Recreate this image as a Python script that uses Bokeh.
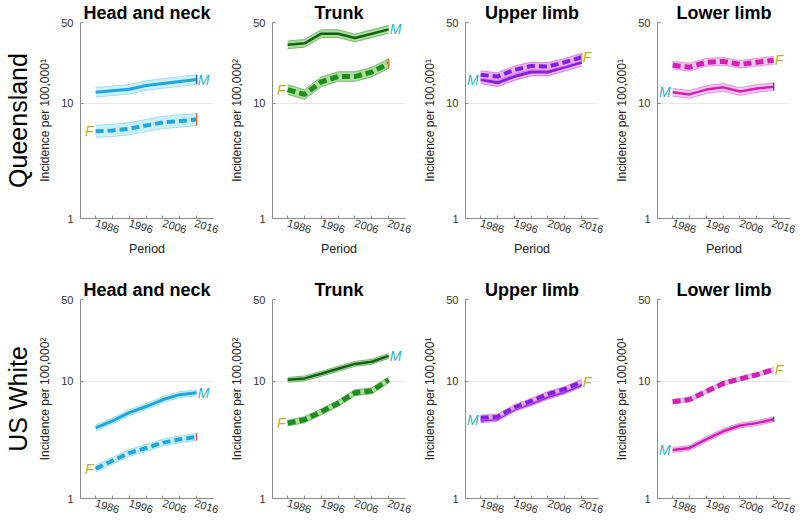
from bokeh.plotting import figure
from bokeh.layouts import row, column
from bokeh.models import Label, FixedTicker, BasicTickFormatter, LinearAxis
from bokeh.embed import file_html
from bokeh.resources import INLINE

# ---------------- data ----------------
periods = [1986, 1991, 1996, 2001, 2006, 2011, 2016]
x_ticks = [1986, 1996, 2006, 2016]
x_minor = [1991, 2001, 2011]
y_ticks = [1, 10, 50]

row_labels = ["Queensland", "US White"]
titles = ["Head and neck", "Trunk", "Upper limb", "Lower limb"]
qld_sup = ["\u00b9", "\u00b2", "\u00b9", "\u00b9"]
us_sup = ["\u00b2", "\u00b2", "\u00b9", "\u00b9"]

# Queensland
qld_head_m = [12.4, 12.8, 13.2, 14.2, 14.8, 15.4, 16.0]
qld_head_f = [5.7, 5.8, 6.0, 6.4, 6.8, 7.0, 7.2]
qld_trunk_m = [32.0, 33.0, 40.0, 40.0, 36.7, 40.0, 43.6]
qld_trunk_f = [13.1, 11.9, 15.3, 17.0, 17.0, 18.6, 22.0]
qld_upper_m = [16.0, 15.0, 17.0, 18.6, 18.6, 20.5, 22.6]
qld_upper_f = [17.6, 17.0, 19.4, 21.0, 20.8, 22.6, 25.0]
qld_lower_m = [12.4, 11.9, 13.1, 13.7, 12.6, 13.4, 13.9]
qld_lower_f = [21.3, 20.5, 22.6, 23.0, 21.7, 22.6, 23.5]

# US White
us_head_m = [4.0, 4.6, 5.4, 6.1, 7.0, 7.7, 8.0]
us_head_f = [1.8, 2.1, 2.45, 2.7, 3.0, 3.2, 3.35]
us_trunk_m = [10.3, 10.6, 11.6, 12.8, 14.1, 14.7, 16.5]
us_trunk_f = [4.4, 4.7, 5.5, 6.5, 8.0, 8.3, 10.3]
us_upper_m = [4.65, 4.8, 5.8, 6.5, 7.4, 8.2, 9.4]
us_upper_f = [4.9, 5.0, 6.0, 6.8, 7.8, 8.6, 9.9]
us_lower_m = [2.6, 2.7, 3.2, 3.75, 4.2, 4.4, 4.75]
us_lower_f = [6.7, 7.0, 8.2, 9.6, 10.5, 11.4, 12.6]

# confidence band half-width (multiplicative)
qld_ci_m = [1.10, 1.08, 1.08, 1.08]
qld_ci_f = [1.13, 1.10, 1.08, 1.08]
us_ci_m = [1.06, 1.05, 1.05, 1.05]
us_ci_f = [1.07, 1.06, 1.05, 1.04]

# ---------------- styles ----------------
FONT = "Liberation Sans"
panel_styles = [
    dict(m_line="#1fa6dc", f_line="#1fa6dc", band="#c6eef9", edge="#74cfe9", m_w=3, f_w=4),
    dict(m_line="#155e15", f_line="#1f8c1f", band="#9ddf8c", edge="#4f8f4f", m_w=2.5, f_w=5),
    dict(m_line="#7f22dd", f_line="#7f22dd", band="#f0a8f7", edge="#cc55dd", m_w=3, f_w=4),
    dict(m_line="#d21fb4", f_line="#d21fb4", band="#f7c2f0", edge="#cf66cf", m_w=2.5, f_w=5),
]
qld_sides = [("right", "left"), ("right", "left"), ("left", "right"), ("left", "right")]
us_sides = [("right", "left"), ("right", "left"), ("left", "right"), ("left", "right")]
qld_end = [("#3a5ec0", "#e06a30"), (None, "#e07a30"), (None, "#d8a020"), ("#4050c0", None)]
us_end = [(None, "#d05858"), (None, None), (None, None), ("#4050c0", None)]

M_COLOR = "#2ab4d2"
F_COLOR = "#b8b41c"

FRAME_W = 133
LEFT_B = [0, 53, 53, 53]
RIGHT_B = [6, 7, 6, 6]
TOP_H, TOP_BOTTOM_B = 277, 59
BOT_H, BOT_BOTTOM_B = 253, 32


def make_panel(idx, top, m_vals, f_vals, ci_m, ci_f, sides, ends, sup, row_label):
    st = panel_styles[idx]
    p = figure(frame_width=FRAME_W, height=TOP_H if top else BOT_H,
               x_range=(1981.5, 2021), y_range=(1, 50), y_axis_type="log",
               output_backend="svg", toolbar_location=None,
               min_border_left=LEFT_B[idx], min_border_right=RIGHT_B[idx],
               min_border_top=0, min_border_bottom=TOP_BOTTOM_B if top else BOT_BOTTOM_B)
    p.title.text = titles[idx]
    p.title.align = "center"
    p.title.text_font = FONT
    p.title.text_font_size = "18px"
    p.title.text_font_style = "bold"
    p.title.text_color = "black"
    p.title.standoff = 0
    p.title.text_line_height = 0.85
    p.outline_line_color = None
    p.xgrid.visible = False
    p.ygrid.ticker = FixedTicker(ticks=[10, 50])
    p.ygrid.grid_line_color = "#e6e6e6"

    p.xaxis.ticker = FixedTicker(ticks=x_ticks, minor_ticks=x_minor)
    p.yaxis.ticker = FixedTicker(ticks=y_ticks, minor_ticks=[])
    p.yaxis.formatter = BasicTickFormatter()
    p.yaxis.major_label_overrides = {1: "1", 10: "10", 50: "50"}
    for ax in (p.xaxis[0], p.yaxis[0]):
        ax.axis_line_color = "#8a8a8a"
        ax.major_tick_line_color = "#8a8a8a"
        ax.minor_tick_line_color = "#8a8a8a"
        ax.major_tick_in = 3
        ax.major_tick_out = 0
        ax.minor_tick_in = 3
        ax.minor_tick_out = 0
        ax.major_label_text_font = FONT
        ax.major_label_text_font_size = "11px"
        ax.major_label_text_color = "#333333"
        ax.axis_label_text_font = FONT
        ax.axis_label_text_font_style = "normal"
        ax.axis_label_text_color = "#222222"
    p.xaxis.major_label_orientation = -0.3
    p.xaxis.major_label_standoff = 4
    if top:
        p.xaxis.axis_label = "Period"
        p.xaxis.axis_label_text_font_size = "12.5px"
        p.xaxis.axis_label_standoff = 2
    p.yaxis.axis_label = "Incidence per 100,000" + sup
    p.yaxis.axis_label_text_font_size = "12px"
    p.yaxis.axis_label_standoff = 6
    p.yaxis.major_label_standoff = 7

    if row_label:
        lab_ax = LinearAxis(axis_label=row_label, ticker=FixedTicker(ticks=[]),
                            axis_line_color=None, major_tick_line_color=None,
                            minor_tick_line_color=None, major_label_text_font_size="0px",
                            axis_label_text_font=FONT, axis_label_text_font_size="25px",
                            axis_label_text_font_style="normal", axis_label_text_color="black",
                            axis_label_standoff=4, major_tick_in=0, major_tick_out=0,
                            minor_tick_in=0, minor_tick_out=0, major_label_standoff=0)
        p.add_layout(lab_ax, "left")

    for vals, ci, lw, lc, dash in ((m_vals, ci_m, st["m_w"], st["m_line"], "solid"),
                                   (f_vals, ci_f, st["f_w"], st["f_line"], "8 4")):
        lo = [v / ci for v in vals]
        hi = [v * ci for v in vals]
        p.varea(x=periods, y1=lo, y2=hi, fill_color=st["band"], fill_alpha=0.9)
        p.line(periods, lo, line_color=st["edge"], line_width=0.8, line_alpha=0.8)
        p.line(periods, hi, line_color=st["edge"], line_width=0.8, line_alpha=0.8)
        p.line(periods, vals, line_color=lc, line_width=lw, line_dash=dash, line_cap="butt")

    for vals, ci, col in ((m_vals, ci_m, ends[0]), (f_vals, ci_f, ends[1])):
        if col:
            p.segment(x0=[periods[-1]], y0=[vals[-1] / ci], x1=[periods[-1]], y1=[vals[-1] * ci],
                      line_color=col, line_width=1.5)

    for tag, vals, side, col in (("M", m_vals, sides[0], M_COLOR), ("F", f_vals, sides[1], F_COLOR)):
        if side == "right":
            x, y, al = periods[-1] + 0.3, vals[-1], "left"
        else:
            x, y, al = periods[0] - 0.6, vals[0], "right"
        p.add_layout(Label(x=x, y=y, text=tag, text_color=col, text_font=FONT,
                           text_font_size="14px", text_font_style="italic",
                           text_align=al, text_baseline="middle"))
    return p


qld_m = [qld_head_m, qld_trunk_m, qld_upper_m, qld_lower_m]
qld_f = [qld_head_f, qld_trunk_f, qld_upper_f, qld_lower_f]
us_m = [us_head_m, us_trunk_m, us_upper_m, us_lower_m]
us_f = [us_head_f, us_trunk_f, us_upper_f, us_lower_f]

top_row = [make_panel(i, True, qld_m[i], qld_f[i], qld_ci_m[i], qld_ci_f[i], qld_sides[i], qld_end[i],
                      qld_sup[i], row_labels[0] if i == 0 else None) for i in range(4)]
bot_row = [make_panel(i, False, us_m[i], us_f[i], us_ci_m[i], us_ci_f[i], us_sides[i], us_end[i],
                      us_sup[i], row_labels[1] if i == 0 else None) for i in range(4)]

layout = column(row(*top_row, spacing=0), row(*bot_row, spacing=0), spacing=0)

with open("out.html", "w") as fh:
    fh.write(file_html(layout, INLINE))
